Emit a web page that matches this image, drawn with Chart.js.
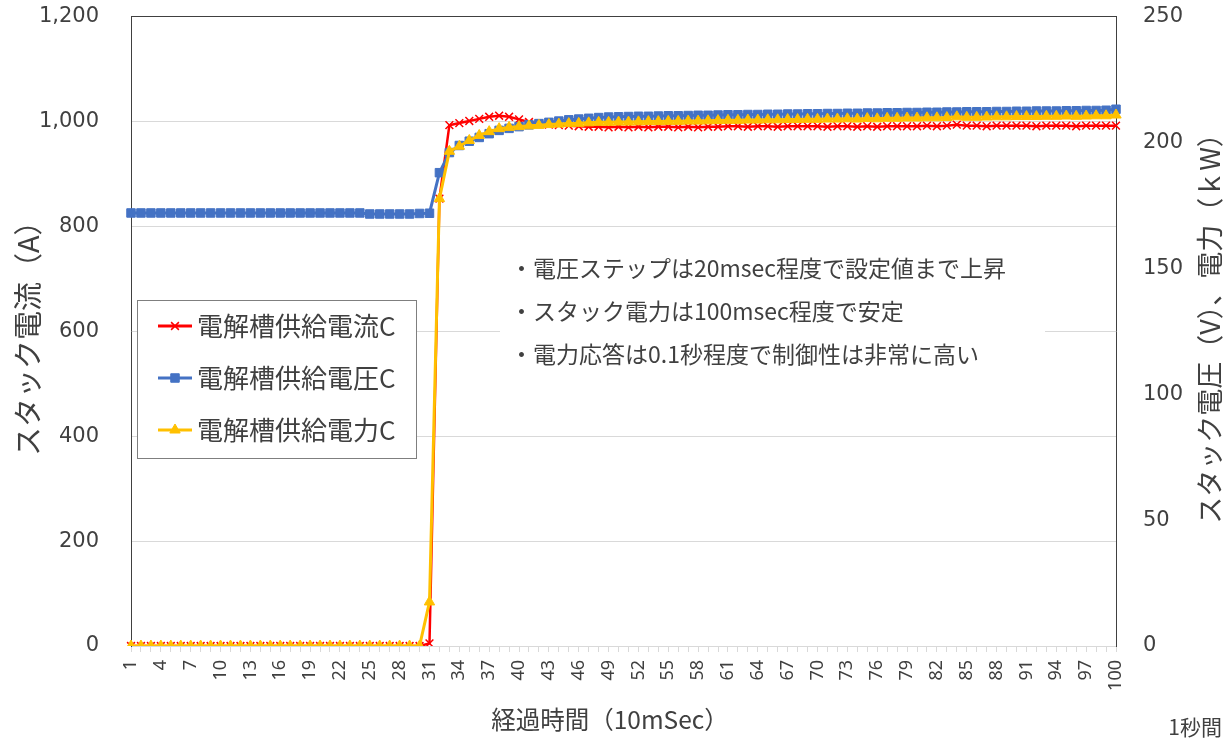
<!DOCTYPE html>
<html>
<head>
<meta charset="utf-8">
<script src="https://cdn.jsdelivr.net/npm/chart.js@4/dist/chart.umd.min.js"></script>
<style>
  html, body { margin: 0; padding: 0; background: #fff; }
  #wrap { width: 1224px; height: 741px; position: relative; }
</style>
</head>
<body>
<div id="wrap"><canvas id="c"></canvas></div>
<script>
// 経過時間 1〜100 (10msec)
const labels = [];
for (let i = 1; i <= 100; i++) labels.push(String(i));

const seriesNames = ['電解槽供給電流C', '電解槽供給電圧C', '電解槽供給電力C'];

// 電流 (A)
const current = [
  0,0,0,0,0,0,0,0,0,0, 0,0,0,0,0,0,0,0,0,0, 0,0,0,0,0,0,0,0,0,0,
  5,853,993,997,1001,1005,1009,1011,1009,1004,
  999,996,994,993,992,991,990,990,989,990,
  989,990,989,990,990,989,990,989,990,990,
  991,991,990,991,991,990,991,991,991,991,
  990,991,991,990,991,990,991,991,991,991,
  992,991,992,994,992,992,991,992,992,992,
  992,991,992,992,992,991,992,992,992,992
];

// 電圧 (V)
const voltage = [
  172.0,172.0,172.0,172.0,172.0,172.0,172.0,172.0,172.0,172.0,
  172.0,172.0,172.0,172.0,172.0,172.0,172.0,172.0,172.0,172.0,
  172.0,172.0,172.0,172.0,171.6,171.6,171.6,171.6,171.6,171.8,
  171.9,188.0,196.0,198.8,200.5,202.0,203.5,204.8,205.6,206.3,
  207.0,207.5,208.0,208.5,209.0,209.3,209.6,209.9,210.1,210.2,
  210.3,210.4,210.4,210.5,210.6,210.6,210.7,210.8,210.8,210.9,
  211.0,211.0,211.1,211.1,211.2,211.2,211.3,211.3,211.4,211.4,
  211.5,211.5,211.6,211.6,211.7,211.7,211.8,211.8,211.9,211.9,
  212.0,212.0,212.1,212.1,212.2,212.2,212.2,212.3,212.3,212.4,
  212.4,212.5,212.5,212.5,212.6,212.6,212.7,212.7,212.8,213.2
];

// 電力 (kW)
const power = [
  0,0,0,0,0,0,0,0,0,0, 0,0,0,0,0,0,0,0,0,0, 0,0,0,0,0,0,0,0,0,0,
  17.5,177.7,196.5,198.5,200.8,202.8,204.3,205.5,206.0,206.3,
  206.6,206.8,207.1,207.3,207.5,207.6,207.8,208.0,208.0,208.1,
  208.1,208.2,208.3,208.3,208.4,208.4,208.5,208.5,208.6,208.7,
  208.8,208.8,208.9,208.9,209.0,209.0,209.1,209.1,209.2,209.2,
  209.3,209.3,209.4,209.3,209.5,209.4,209.6,209.6,209.7,209.7,
  209.8,209.8,209.9,210.2,210.0,210.0,210.1,210.2,210.2,210.3,
  210.3,210.3,210.4,210.4,210.5,210.4,210.5,210.6,210.6,210.9
];

const notes = [
  '・電圧ステップは20msec程度で設定値まで上昇',
  '・スタック電力は100msec程度で安定',
  '・電力応答は0.1秒程度で制御性は非常に高い'
];

const jp = "'Noto Sans CJK JP', sans-serif";
const textColor = '#404040';

// 凡例・注記・軸タイトルを描く
const overlay = {
  id: 'overlay',
  afterDraw(chart) {
    const ctx = chart.ctx;
    ctx.save();

    // 注記 (白背景)
    ctx.fillStyle = '#fff';
    ctx.fillRect(500, 246, 545, 130);
    ctx.fillStyle = textColor;
    ctx.font = '23px ' + jp;
    ctx.textBaseline = 'middle';
    ctx.textAlign = 'left';
    notes.forEach((t, i) => ctx.fillText(t, 510, 268 + i * 43));

    // 凡例
    ctx.fillStyle = '#fff';
    ctx.fillRect(137, 300, 279, 158);
    ctx.strokeStyle = '#7f7f7f';
    ctx.lineWidth = 1;
    ctx.strokeRect(137.5, 300.5, 279, 158);
    chart.data.datasets.forEach((ds, i) => {
      const y = 326 + i * 52;
      ctx.strokeStyle = ds.borderColor;
      ctx.lineWidth = 3;
      ctx.beginPath();
      ctx.moveTo(158, y);
      ctx.lineTo(192, y);
      ctx.stroke();
      ctx.fillStyle = ds.borderColor;
      ctx.strokeStyle = ds.borderColor;
      ctx.lineWidth = ds.pointBorderWidth;
      Chart.helpers.drawPoint(ctx, {
        pointStyle: ds.pointStyle, radius: ds.pointRadius, rotation: 0, borderWidth: ds.pointBorderWidth
      }, 175, y);
      ctx.fillStyle = textColor;
      ctx.font = '26px ' + jp;
      ctx.textAlign = 'left';
      ctx.textBaseline = 'middle';
      ctx.fillText(ds.label, 197, y);
    });

    // 右軸タイトル
    ctx.save();
    ctx.translate(1210, 322);
    ctx.rotate(-Math.PI / 2);
    ctx.fillStyle = textColor;
    ctx.font = '27px ' + jp;
    ctx.textAlign = 'center';
    ctx.textBaseline = 'middle';
    ctx.fillText('スタック電圧（V）、電力（ｋW）', 0, 0);
    ctx.restore();

    // 横軸タイトル
    ctx.fillStyle = textColor;
    ctx.font = '24.5px ' + jp;
    ctx.textAlign = 'center';
    ctx.textBaseline = 'middle';
    ctx.fillText('経過時間（10mSec）', 610, 720);

    // 1秒間
    ctx.font = '21px ' + jp;
    ctx.textAlign = 'right';
    ctx.fillText('1秒間', 1222, 727);

    ctx.restore();
  }
};

new Chart(document.getElementById('c'), {
  type: 'line',
  data: {
    labels: labels,
    datasets: [
      {
        label: seriesNames[0],
        data: current,
        yAxisID: 'y',
        borderColor: '#ff0000',
        backgroundColor: '#ff0000',
        borderWidth: 2.5,
        pointStyle: 'crossRot',
        pointRadius: 5.5,
        pointBorderWidth: 1.5,
        order: 2
      },
      {
        label: seriesNames[1],
        data: voltage,
        yAxisID: 'y1',
        borderColor: '#4472c4',
        backgroundColor: '#4472c4',
        borderWidth: 3,
        pointStyle: 'rect',
        pointRadius: 6,
        pointBorderWidth: 1,
        order: 1
      },
      {
        label: seriesNames[2],
        data: power,
        yAxisID: 'y1',
        borderColor: '#ffc000',
        backgroundColor: '#ffc000',
        borderWidth: 3,
        pointStyle: 'triangle',
        pointRadius: 6,
        pointBorderWidth: 1,
        order: 0
      }
    ]
  },
  options: {
    responsive: true,
    maintainAspectRatio: false,
    animation: false,
    layout: { padding: { top: 16, left: 0, right: 0, bottom: 0 } },
    plugins: {
      legend: { display: false },
      tooltip: { enabled: false }
    },
    scales: {
      x: {
        offset: false,
        grid: {
          display: true,
          drawOnChartArea: false,
          drawTicks: true,
          tickLength: 6,
          color: '#d9d9d9'
        },
        border: { color: '#d9d9d9', width: 1 },
        ticks: {
          autoSkip: false,
          minRotation: 90,
          maxRotation: 90,
          padding: 8,
          color: textColor,
          font: { family: "'Noto Sans', sans-serif", size: 18 },
          callback: function(v, i) { return i % 3 === 0 ? labels[i] : ''; }
        },
        afterFit: function(s) { s.height = 95; }
      },
      y: {
        position: 'left',
        min: 0,
        max: 1200,
        ticks: {
          stepSize: 200,
          padding: 4,
          color: textColor,
          font: { family: "'DejaVu Sans', sans-serif", size: 21 },
          callback: function(v) { return v.toLocaleString('en-US'); }
        },
        grid: {
          drawTicks: true,
          tickLength: 28,
          tickColor: 'rgba(0,0,0,0)',
          color: function(c) { return c.tick.value === 1200 ? '#404040' : '#d9d9d9'; }
        },
        border: { display: true, color: '#404040', width: 1 },
        title: {
          display: true,
          text: 'スタック電流（A）',
          color: textColor,
          font: { family: jp, size: 29 },
          padding: { top: 11, bottom: 0 }
        },
        afterFit: function(s) { s.width = 131; }
      },
      y1: {
        position: 'right',
        min: 0,
        max: 250,
        ticks: {
          stepSize: 50,
          padding: 4,
          color: textColor,
          font: { family: "'DejaVu Sans', sans-serif", size: 21 }
        },
        grid: { drawOnChartArea: false, drawTicks: true, tickLength: 23, tickColor: 'rgba(0,0,0,0)' },
        border: { display: true, color: '#404040', width: 1 },
        afterFit: function(s) { s.width = 108; }
      }
    }
  },
  plugins: [overlay]
});
</script>
</body>
</html>
